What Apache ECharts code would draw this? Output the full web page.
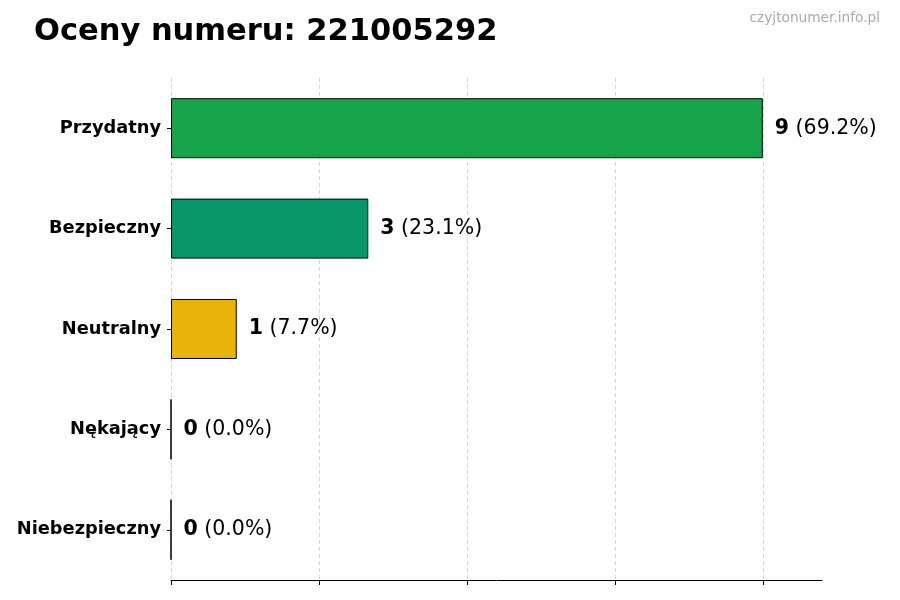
<!DOCTYPE html>
<html>
<head>
<meta charset="utf-8">
<script src="https://cdn.jsdelivr.net/npm/echarts@6/dist/echarts.min.js"></script>
<style>
  html, body { margin: 0; padding: 0; background: #fff; }
  #box { width: 900px; height: 600px; }
</style>
</head>
<body>
<div id="box"></div>
<script>
var categories = ['Przydatny', 'Bezpieczny', 'Neutralny', 'Nękający', 'Niebezpieczny']
var counts = [9, 3, 1, 0, 0]
var barColors = ['#16a34a', '#059669', '#eab308', '#dc2626', '#991b1b']
var xTicks = [0, 2.25, 4.5, 6.75, 9]

var total = counts.reduce(function (a, b) { return a + b }, 0)

var chart = echarts.init(document.getElementById('box'))

// grid lines at the ticks only, not at the axis end
var gridColors = xTicks.map(function () { return '#d4d4d4' })
gridColors.push('rgba(0,0,0,0)')

chart.setOption({
    animation: false,
    textStyle: { fontFamily: 'DejaVu Sans' },
    title: [{
        text: 'Oceny numeru: 221005292',
        left: 29,
        top: 12,
        textStyle: { fontSize: 30.5, fontWeight: 'bold', color: '#000', fontFamily: 'DejaVu Sans' }
    }, {
        text: 'czyjtonumer.info.pl',
        right: 15,
        top: 6,
        textStyle: { fontSize: 13.7, fontWeight: 'normal', color: '#aaa', fontFamily: 'DejaVu Sans' }
    }],
    grid: {
        left: 171,
        right: 78,
        top: 78,
        bottom: 20
    },
    xAxis: {
        type: 'value',
        min: 0,
        max: 9.9,
        interval: 2.25,
        axisLine: { show: true, lineStyle: { color: '#000', width: 1 } },
        axisTick: { show: true, length: 5, customValues: xTicks, lineStyle: { color: '#000' } },
        axisLabel: { show: false },
        splitLine: { show: true, lineStyle: { type: [4, 3], color: gridColors, width: 1 } }
    },
    yAxis: {
        type: 'category',
        inverse: true,
        data: categories,
        axisLine: { show: false },
        axisTick: { show: true, length: 4, alignWithLabel: true, lineStyle: { color: '#000' } },
        axisLabel: { fontSize: 17.8, fontWeight: 'bold', color: '#000', margin: 10, fontFamily: 'DejaVu Sans' }
    },
    series: [{
        type: 'bar',
        barWidth: 60,
        data: counts.map(function (v, i) {
            return {
                value: v,
                itemStyle: { color: barColors[i] }
            }
        }),
        itemStyle: { borderColor: '#000', borderWidth: 1 },
        label: {
            show: true,
            position: 'right',
            distance: 12,
            formatter: function (p) {
                var pct = (p.value / total * 100).toFixed(1)
                return '{b|' + p.value + '}{n| (' + pct + '%)}'
            },
            rich: {
                b: { fontSize: 20.5, fontWeight: 'bold', color: '#000', fontFamily: 'DejaVu Sans' },
                n: { fontSize: 20.5, color: '#000', fontFamily: 'DejaVu Sans' }
            }
        }
    }]
})
</script>
</body>
</html>
